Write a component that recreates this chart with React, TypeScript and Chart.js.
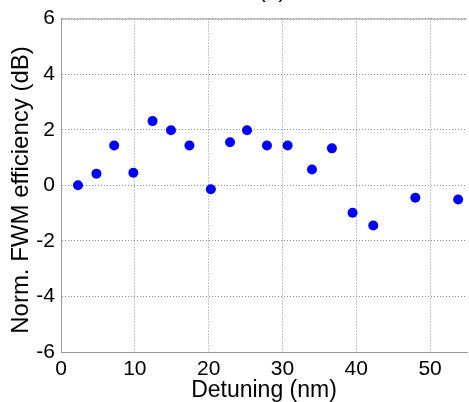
import React, { useEffect, useRef } from "react";
import { Chart, registerables } from "chart.js";

Chart.register(...registerables);

const detuning = [2.3, 4.8, 7.2, 9.8, 12.4, 14.9, 17.4, 20.3, 22.9, 25.2, 27.9, 30.7, 34.0, 36.7, 39.5, 42.3, 48.0, 53.8];
const efficiency = [0.0, 0.42, 1.43, 0.45, 2.31, 1.98, 1.43, -0.14, 1.55, 1.98, 1.43, 1.43, 0.57, 1.33, -0.99, -1.45, -0.45, -0.51];
const xTicks = [0, 10, 20, 30, 40, 50];
const yTicks = [-6, -4, -2, 0, 2, 4, 6];
const xTitle = "Detuning (nm)";
const yTitle = "Norm. FWM efficiency (dB)";
const panelTitle = "(a)";

const FONT = "'Liberation Sans', Arial, sans-serif";

const extras = {
  id: "extras",
  afterDraw(chart: any) {
    const { ctx, chartArea } = chart;
    ctx.save();
    ctx.strokeStyle = "#999999";
    ctx.lineWidth = 1;
    ctx.beginPath();
    ctx.moveTo(chartArea.left, chartArea.top + 0.5);
    ctx.lineTo(chartArea.right, chartArea.top + 0.5);
    ctx.stroke();
    ctx.fillStyle = "#000";
    ctx.font = "23px " + FONT;
    ctx.textAlign = "center";
    ctx.textBaseline = "alphabetic";
    ctx.fillText(panelTitle, 272, -3);
    // y axis title
    ctx.translate(21, 190);
    ctx.rotate(-Math.PI / 2);
    ctx.font = "24px " + FONT;
    ctx.textBaseline = "middle";
    ctx.fillText(yTitle, 0, 0);
    ctx.restore();
  },
};

export default function App() {
  const ref = useRef<HTMLCanvasElement>(null);
  useEffect(() => {
    document.body.style.margin = "0";
    const chart = new Chart(ref.current!, {
      type: "scatter",
      data: {
        datasets: [
          {
            data: detuning.map((x, i) => ({ x, y: efficiency[i] })),
            backgroundColor: "#0000ff",
            borderWidth: 0,
            pointRadius: 5,
            pointHoverRadius: 5,
          },
        ],
      },
      options: {
        animation: false,
        responsive: false,
        layout: { padding: { top: 17, left: 0, right: 0, bottom: 0 } },
        plugins: { legend: { display: false }, tooltip: { enabled: false } },
        scales: {
          x: {
            type: "linear",
            min: 0,
            max: 55,
            afterFit: (s: any) => {
              s.height = 50;
            },
            afterBuildTicks: (s: any) => {
              s.ticks = xTicks.map((v) => ({ value: v }));
            },
            ticks: { font: { family: FONT, size: 21 }, color: "#000", padding: 5 },
            grid: { color: "#8c8c8c", drawTicks: false },
            border: { color: "#999", dash: [1, 2] },
            title: {
              display: true,
              text: xTitle,
              font: { family: FONT, size: 23, lineHeight: 1 },
              color: "#000",
              padding: { top: 0, bottom: 0 },
            },
          },
          y: {
            min: -6,
            max: 6,
            afterFit: (s: any) => {
              s.width = 61;
            },
            afterBuildTicks: (s: any) => {
              s.ticks = yTicks.map((v) => ({ value: v }));
            },
            ticks: { font: { family: FONT, size: 21 }, color: "#000", padding: 6 },
            grid: { color: "#8c8c8c", drawTicks: false },
            border: { color: "#999", dash: [1, 2] },
            title: { display: false },
          },
        },
      },
      plugins: [extras],
    });
    return () => chart.destroy();
  }, []);
  return (
    <div style={{ width: 469, height: 402, overflow: "hidden", position: "relative" }}>
      <canvas ref={ref} width={472} height={402} style={{ display: "block" }} />
    </div>
  );
}
